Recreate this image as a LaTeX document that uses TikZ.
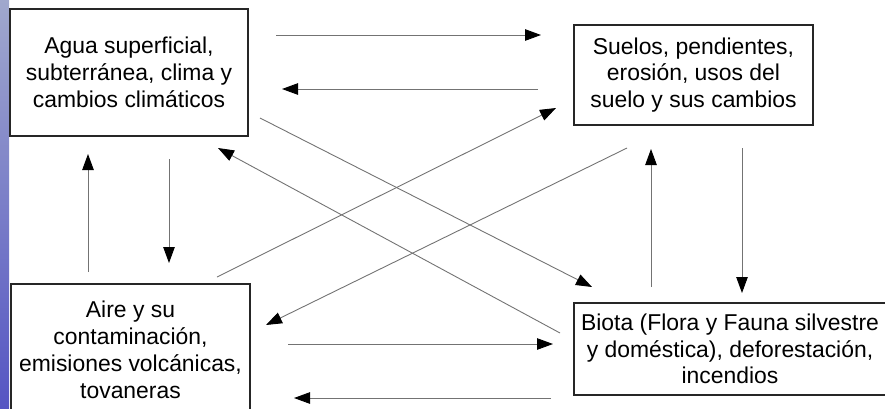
\documentclass[tikz,border=0pt]{standalone}
\usepackage{fontspec}
\setmainfont{Liberation Sans}
\usetikzlibrary{arrows.meta,positioning}
\definecolor{slidetop}{RGB}{160,168,205}
\definecolor{slidebottom}{RGB}{85,85,195}

\begin{document}
\begin{tikzpicture}[x=1pt,y=-1pt,
  every node/.style={align=center,font=\fontsize{22.9}{26.8}\selectfont},
  topic/.style={draw=black!85,line width=1.4pt,inner sep=0pt},
  flow/.style={-{Triangle[length=16pt,width=11.5pt,color=black]},draw=black!55,line width=.9pt}]

    \useasboundingbox (0,0) rectangle (885,408);
    \shade[top color=slidetop,bottom color=slidebottom] (0,0) rectangle (9,408);

    \node[topic,minimum width=238pt,minimum height=127pt](agua) at (129,72.5)
        {Agua superficial,\\subterránea, clima y\\cambios climáticos};
    \node[topic,minimum width=239pt,minimum height=100pt](suelos) at (693.5,75)
        {Suelos, pendientes,\\erosión, usos del\\suelo y sus cambios};
    \node[topic,minimum width=239pt,minimum height=132pt](aire) at (130.5,350)
        {Aire y su\\contaminación,\\emisiones volcánicas,\\tovaneras};
    \node[topic,minimum width=312pt,minimum height=92pt](biota) at (730,349)
        {Biota (Flora y Fauna silvestre\\y doméstica), deforestación,\\incendios};

    % free ends of the connectors
    \coordinate (as1) at (276,35);  \coordinate (as2) at (541,35);
    \coordinate (sa1) at (538,89);  \coordinate (sa2) at (282,89);
    \coordinate (ab1) at (260,118); \coordinate (ab2) at (592,287);
    \coordinate (ba1) at (560,333); \coordinate (ba2) at (218,148);
    \coordinate (rs1) at (217,277); \coordinate (rs2) at (556,108);
    \coordinate (sr1) at (627,148); \coordinate (sr2) at (266,325);
    \coordinate (ra1) at (88,272);  \coordinate (ra2) at (88,154);
    \coordinate (ar1) at (169,159); \coordinate (ar2) at (169,263);
    \coordinate (bs1) at (651,287); \coordinate (bs2) at (651,149);
    \coordinate (sb1) at (742,148); \coordinate (sb2) at (742,293);
    \coordinate (rb1) at (288,344); \coordinate (rb2) at (553,344);
    \coordinate (br1) at (551,398); \coordinate (br2) at (294,398);

    \draw[flow](as1) -- (as2);
    \draw[flow](sa1) -- (sa2);
    \draw[flow](ab1) -- (ab2);
    \draw[flow](ba1) -- (ba2);
    \draw[flow](rs1) -- (rs2);
    \draw[flow](sr1) -- (sr2);
    \draw[flow](ra1) -- (ra2);
    \draw[flow](ar1) -- (ar2);
    \draw[flow](bs1) -- (bs2);
    \draw[flow](sb1) -- (sb2);
    \draw[flow](rb1) -- (rb2);
    \draw[flow](br1) -- (br2);
\end{tikzpicture}
\end{document}
